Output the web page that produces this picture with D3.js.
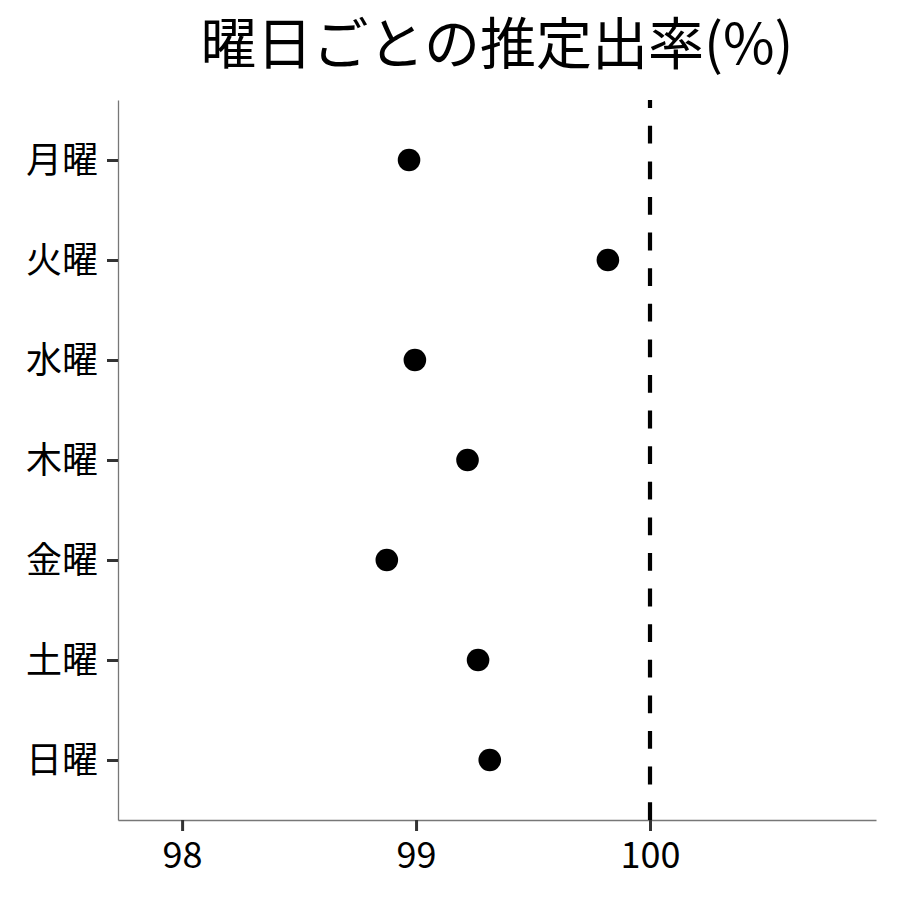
<!DOCTYPE html>
<html><head><meta charset="utf-8">
<script src="https://cdn.jsdelivr.net/npm/d3@7"></script>
<style>html,body{margin:0;padding:0;background:#fff;}</style>
</head><body>
<script>
const days = ["月曜","火曜","水曜","木曜","金曜","土曜","日曜"];
const rates = [98.97, 99.82, 98.995, 99.22, 98.875, 99.265, 99.315];
const xTicks = [98, 99, 100];
const refValue = 100;
const title = "曜日ごとの推定出率(%)";

(function () {
const W = 900, H = 900;
const font = "'Noto Sans CJK JP', 'Noto Sans', sans-serif";
const svg = d3.select("body").append("svg").attr("width", W).attr("height", H);

const pLeft = 118, pRight = 876, pTop = 100, pBottom = 820;
const x = d3.scaleLinear().domain([97.726, 100.966]).range([pLeft, pRight]);
const y = d3.scalePoint().domain(days).range([pTop, pBottom]).padding(0.6);

// title
svg.append("text").attr("x", (pLeft + pRight) / 2).attr("y", 64)
  .attr("text-anchor", "middle").attr("font-family", font).attr("font-size", 56)
  .attr("fill", "#000").text(title);

// axes
const xAxis = svg.append("g").attr("transform", `translate(0,${pBottom})`)
  .call(d3.axisBottom(x).tickValues(xTicks).tickSizeInner(11).tickSizeOuter(0).tickPadding(8).tickFormat(d3.format("d")));
const yAxis = svg.append("g").attr("transform", `translate(${pLeft},0)`)
  .call(d3.axisLeft(y).tickSizeInner(11).tickSizeOuter(0).tickPadding(9));
[xAxis, yAxis].forEach(g => {
  g.select(".domain").attr("stroke", "#777").attr("stroke-width", 1.3);
  g.selectAll(".tick line").attr("stroke", "#333").attr("stroke-width", 3);
  g.selectAll(".tick text").attr("fill", "#000").attr("font-family", font).attr("font-size", 36);
});
yAxis.selectAll(".tick text").attr("dy", "0.35em");
xAxis.selectAll(".tick text").attr("dy", "0.8em");

// reference line (drawn bottom to top)
svg.append("line").attr("x1", x(refValue)).attr("x2", x(refValue))
  .attr("y1", pBottom).attr("y2", pTop)
  .attr("stroke", "#000").attr("stroke-width", 4.2).attr("stroke-dasharray", "17.8,17.8");

// points
svg.append("g").selectAll("circle").data(days).join("circle")
  .attr("cx", (d, i) => x(rates[i])).attr("cy", d => y(d)).attr("r", 11.3).attr("fill", "#000");
})();
</script>
</body></html>
